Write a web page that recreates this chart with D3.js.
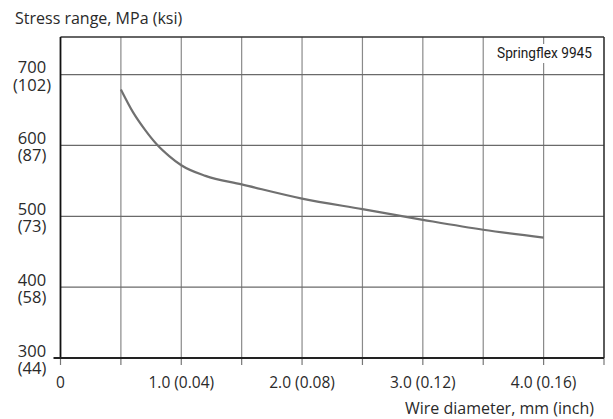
<!DOCTYPE html>
<html>
<head>
<meta charset="utf-8">
<script src="https://cdn.jsdelivr.net/npm/d3@7"></script>
<style>
  html, body { margin: 0; padding: 0; background: #fff; }
  svg { display: block; }
  text { font-family: "Open Sans", "Noto Sans", sans-serif; fill: #2a2a2a; }
</style>
</head>
<body>
<svg id="chart" width="613" height="419"></svg>
<script>
// ---- data ----
const diameters = [0.5, 0.6, 0.7, 0.8, 0.9, 1.0, 1.2, 1.5, 2.0, 2.5, 3.0, 3.5, 4.0];
const stress    = [679, 647, 622, 601, 585, 572, 557, 545, 525, 510, 495, 481, 470];
const xTickValues = [0, 1, 2, 3, 4];
const xTickLabels = ["0", "1.0 (0.04)", "2.0 (0.08)", "3.0 (0.12)", "4.0 (0.16)"];
const yTickValues = [300, 400, 500, 600, 700];
const yTickMPa    = ["300", "400", "500", "600", "700"];
const yTickKsi    = ["(44)", "(58)", "(73)", "(87)", "(102)"];
const xGrid = [0.5, 1.0, 1.5, 2.0, 2.5, 3.0, 3.5, 4.0];
const xMinorTicks = [0, 0.5, 1.0, 1.5, 2.0, 2.5, 3.0, 3.5, 4.0, 4.5];
const yGrid = [400, 500, 600, 700];
const yTitle = "Stress range, MPa (ksi)";
const xTitle = "Wire diameter, mm (inch)";
const seriesLabel = "Springflex 9945";

// ---- layout ----
const svg = d3.select("#chart");
const W = 613, H = 419;
const m = { left: 60.5, right: 9, top: 37, bottom: 61 };
const x = d3.scaleLinear().domain([0, 4.5]).range([m.left, W - m.right]);
const y = d3.scaleLinear().domain([300, 753]).range([H - m.bottom, m.top]);

const g = svg.append("g");

// gridlines
g.selectAll(".vgrid").data(xGrid).join("line")
  .attr("x1", d => x(d)).attr("x2", d => x(d))
  .attr("y1", y(753)).attr("y2", y(300))
  .attr("stroke", "#8a8a8a").attr("stroke-width", 1.2);
g.selectAll(".hgrid").data(yGrid).join("line")
  .attr("x1", x(0)).attr("x2", x(4.5))
  .attr("y1", d => y(d)).attr("y2", d => y(d))
  .attr("stroke", "#6a6a6a").attr("stroke-width", 1.2);

// ticks below bottom axis
g.selectAll(".xt").data(xMinorTicks).join("line")
  .attr("x1", d => x(d)).attr("x2", d => x(d))
  .attr("y1", y(300)).attr("y2", y(300) + 7)
  .attr("stroke", "#777").attr("stroke-width", 1.2);

// frame: top & right
g.append("line").attr("x1", x(0)).attr("x2", x(4.5)).attr("y1", y(753)).attr("y2", y(753))
  .attr("stroke", "#333").attr("stroke-width", 1.6);
g.append("line").attr("x1", x(4.5)).attr("x2", x(4.5)).attr("y1", y(753)).attr("y2", y(300))
  .attr("stroke", "#333").attr("stroke-width", 1.6);
// left & bottom axes
g.append("line").attr("x1", x(0)).attr("x2", x(0)).attr("y1", y(753)).attr("y2", y(300))
  .attr("stroke", "#111").attr("stroke-width", 1.8);
g.append("line").attr("x1", x(0) - 7).attr("x2", x(4.5)).attr("y1", y(300)).attr("y2", y(300))
  .attr("stroke", "#222").attr("stroke-width", 1.8);

// curve
const line = d3.line().x(d => x(d)).y((d, i) => y(stress[i])).curve(d3.curveMonotoneX);
g.append("path").datum(diameters)
  .attr("d", line)
  .attr("fill", "none").attr("stroke", "#707070").attr("stroke-width", 2.2);

// series label with white background
const lbl = g.append("g");
lbl.append("rect").attr("x", x(4.5) - 110).attr("y", y(753) + 7).attr("width", 106).attr("height", 19)
  .attr("fill", "#fff");
lbl.append("text").attr("x", x(4.5) - 107).attr("y", y(753) + 21)
  .attr("textLength", 95).attr("lengthAdjust", "spacingAndGlyphs")
  .style("font-family", "Roboto, 'Liberation Sans', sans-serif")
  .style("font-size", "15px").style("fill", "#1a1a1a")
  .text(seriesLabel);

// y tick labels (two lines: MPa and ksi)
g.selectAll(".ylab1").data(yTickValues).join("text")
  .attr("x", 32).attr("y", d => y(d) - 1.5)
  .attr("text-anchor", "middle").style("font-size", "16.5px")
  .text((d, i) => yTickMPa[i]);
g.selectAll(".ylab2").data(yTickValues).join("text")
  .attr("x", 32).attr("y", d => y(d) + 16)
  .attr("text-anchor", "middle").style("font-size", "16.5px")
  .text((d, i) => yTickKsi[i]);

// x tick labels
g.selectAll(".xlab").data(xTickValues).join("text")
  .attr("x", d => x(d)).attr("y", y(300) + 30)
  .attr("text-anchor", "middle").style("font-size", "15.5px")
  .text((d, i) => xTickLabels[i]);

// titles
g.append("text").attr("x", 15).attr("y", 24).style("font-size", "16px").text(yTitle);
g.append("text").attr("x", 594).attr("y", 414).attr("text-anchor", "end").style("font-size", "16px").text(xTitle);
</script>
</body>
</html>
